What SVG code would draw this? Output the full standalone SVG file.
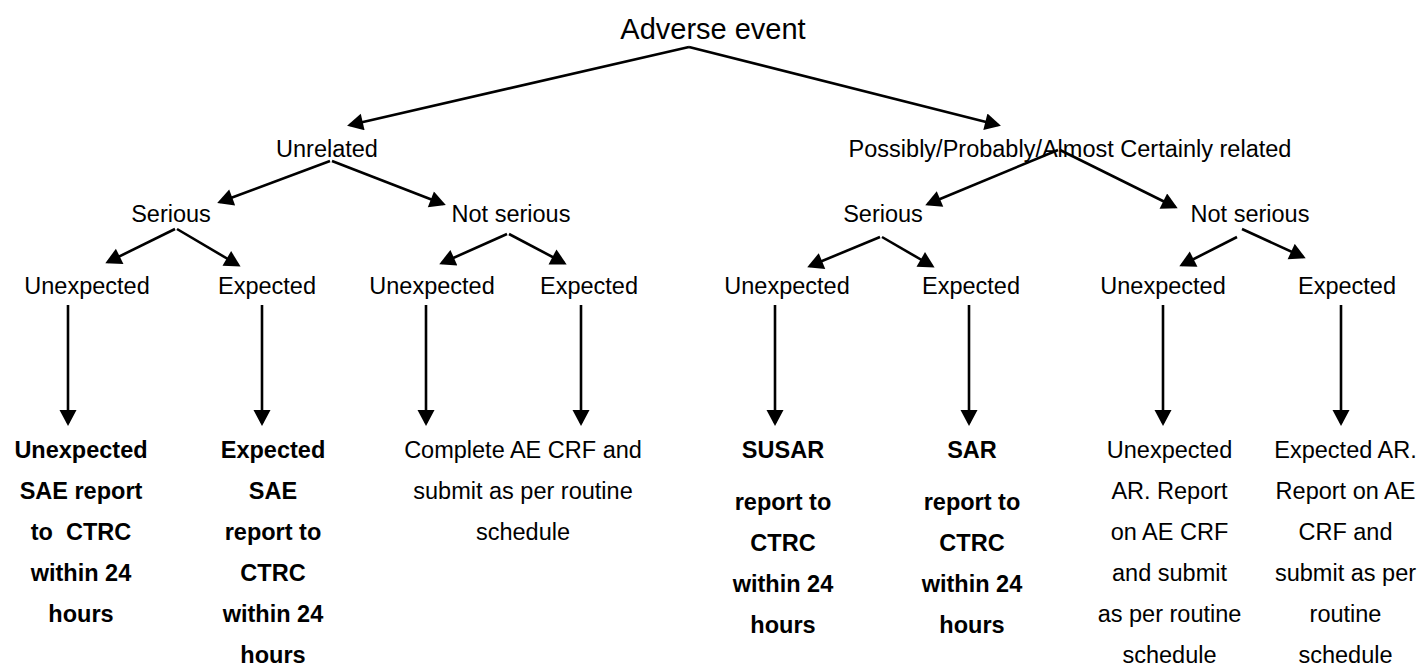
<svg xmlns="http://www.w3.org/2000/svg" width="1423" height="668" viewBox="0 0 1423 668">
<defs>
<style>
text{font-family:"Liberation Sans",Arial,sans-serif;fill:#000;text-anchor:middle}
.lbl{font-size:23.5px}
.top{font-size:29px}
.b{font-weight:bold}
.c line{stroke:#000;stroke-width:2.6;marker-end:url(#ah)}
</style>
<marker id="ah" markerUnits="userSpaceOnUse" markerWidth="18" markerHeight="18" viewBox="0 0 16 18" refX="13" refY="8.5" orient="auto">
<path d="M0,0 L16,8.5 L0,17 z" fill="#000"/>
</marker>
</defs>
<rect width="1423" height="668" fill="#fff"/>
<g id="connectors" class="c">
<line x1="689" y1="47" x2="350" y2="125"/>
<line x1="689" y1="47" x2="998" y2="125"/>
<line x1="330" y1="161" x2="220" y2="202"/>
<line x1="332" y1="161" x2="443" y2="204"/>
<line x1="175" y1="229" x2="108" y2="262"/>
<line x1="177" y1="229" x2="238" y2="265"/>
<line x1="507" y1="234" x2="442" y2="263"/>
<line x1="509" y1="234" x2="564" y2="263"/>
<line x1="1058" y1="150" x2="928" y2="204"/>
<line x1="1060" y1="150" x2="1175" y2="207"/>
<line x1="880" y1="237" x2="810" y2="266"/>
<line x1="882" y1="237" x2="932" y2="266"/>
<line x1="1237" y1="237" x2="1182" y2="265"/>
<line x1="1242" y1="229" x2="1303" y2="257"/>
<line x1="68" y1="305" x2="68" y2="423"/>
<line x1="262" y1="305" x2="262" y2="423"/>
<line x1="426" y1="305" x2="426" y2="423"/>
<line x1="581" y1="305" x2="581" y2="423"/>
<line x1="775" y1="305" x2="775" y2="423"/>
<line x1="969" y1="305" x2="969" y2="423"/>
<line x1="1163" y1="305" x2="1163" y2="423"/>
<line x1="1341" y1="305" x2="1341" y2="423"/>
</g>
<g id="n-adverse"><text class="top" x="713" y="39">Adverse event</text></g>
<g id="n-unrelated"><text class="lbl" x="327" y="157">Unrelated</text></g>
<g id="n-related"><text class="lbl" x="1070" y="157">Possibly/Probably/Almost Certainly related</text></g>
<g id="n-ser1"><text class="lbl" x="171" y="222">Serious</text></g>
<g id="n-nser1"><text class="lbl" x="511" y="222">Not serious</text></g>
<g id="n-ser2"><text class="lbl" x="883" y="222">Serious</text></g>
<g id="n-nser2"><text class="lbl" x="1250" y="222">Not serious</text></g>
<g id="n-u1"><text class="lbl" x="87" y="294">Unexpected</text></g>
<g id="n-e1"><text class="lbl" x="267" y="294">Expected</text></g>
<g id="n-u2"><text class="lbl" x="432" y="294">Unexpected</text></g>
<g id="n-e2"><text class="lbl" x="589" y="294">Expected</text></g>
<g id="n-u3"><text class="lbl" x="787" y="294">Unexpected</text></g>
<g id="n-e3"><text class="lbl" x="971" y="294">Expected</text></g>
<g id="n-u4"><text class="lbl" x="1163" y="294">Unexpected</text></g>
<g id="n-e4"><text class="lbl" x="1347" y="294">Expected</text></g>
<g id="n-r1"><text class="lbl b" x="81" y="458">Unexpected<tspan x="81" dy="41">SAE report</tspan><tspan x="81" dy="41" xml:space="preserve">to  CTRC</tspan><tspan x="81" dy="41">within 24</tspan><tspan x="81" dy="41">hours</tspan></text></g>
<g id="n-r2"><text class="lbl b" x="273" y="458">Expected<tspan x="273" dy="41">SAE</tspan><tspan x="273" dy="41">report to</tspan><tspan x="273" dy="41">CTRC</tspan><tspan x="273" dy="41">within 24</tspan><tspan x="273" dy="41">hours</tspan></text></g>
<g id="n-r3"><text class="lbl" x="523" y="458">Complete AE CRF and<tspan x="523" dy="41">submit as per routine</tspan><tspan x="523" dy="41">schedule</tspan></text></g>
<g id="n-r4"><text class="lbl b" x="783" y="458">SUSAR<tspan x="783" dy="52">report to</tspan><tspan x="783" dy="41">CTRC</tspan><tspan x="783" dy="41">within 24</tspan><tspan x="783" dy="41">hours</tspan></text></g>
<g id="n-r5"><text class="lbl b" x="972" y="458">SAR<tspan x="972" dy="52">report to</tspan><tspan x="972" dy="41">CTRC</tspan><tspan x="972" dy="41">within 24</tspan><tspan x="972" dy="41">hours</tspan></text></g>
<g id="n-r6"><text class="lbl" x="1169.5" y="458">Unexpected<tspan x="1169.5" dy="41">AR. Report</tspan><tspan x="1169.5" dy="41">on AE CRF</tspan><tspan x="1169.5" dy="41">and submit</tspan><tspan x="1169.5" dy="41">as per routine</tspan><tspan x="1169.5" dy="41">schedule</tspan></text></g>
<g id="n-r7"><text class="lbl" x="1345.5" y="458">Expected AR.<tspan x="1345.5" dy="41">Report on AE</tspan><tspan x="1345.5" dy="41">CRF and</tspan><tspan x="1345.5" dy="41">submit as per</tspan><tspan x="1345.5" dy="41">routine</tspan><tspan x="1345.5" dy="41">schedule</tspan></text></g>
</svg>
